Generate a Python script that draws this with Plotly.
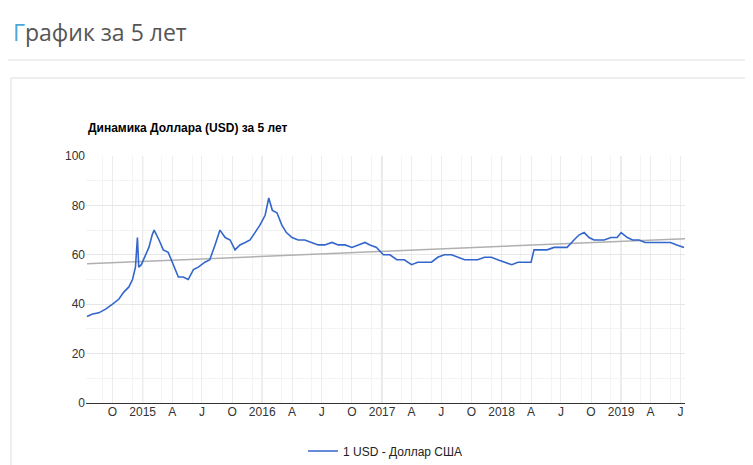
import numpy as np
import pandas as pd
import plotly.graph_objects as go

# USD rate (approx.)
dates = ["2014-07-15", "2014-08-01", "2014-08-20", "2014-09-10", "2014-10-01", "2014-10-20",
         "2014-11-05", "2014-11-20", "2014-12-01", "2014-12-10", "2014-12-16", "2014-12-20",
         "2014-12-28", "2015-01-10", "2015-01-20", "2015-01-30", "2015-02-05", "2015-02-20",
         "2015-03-05", "2015-03-20", "2015-04-05", "2015-04-20", "2015-05-05", "2015-05-20",
         "2015-06-05", "2015-06-20", "2015-07-10", "2015-07-25", "2015-08-10", "2015-08-25",
         "2015-09-10", "2015-09-25", "2015-10-10", "2015-10-25", "2015-11-10", "2015-11-25",
         "2015-12-10", "2015-12-25", "2016-01-10", "2016-01-21", "2016-02-01", "2016-02-15",
         "2016-03-01", "2016-03-15", "2016-04-01", "2016-04-20", "2016-05-10", "2016-06-01",
         "2016-06-20", "2016-07-10", "2016-08-01", "2016-08-20", "2016-09-10", "2016-10-01",
         "2016-10-20", "2016-11-10", "2016-11-25", "2016-12-15", "2017-01-05", "2017-01-25",
         "2017-02-15", "2017-03-10", "2017-04-01", "2017-04-20", "2017-05-10", "2017-06-01",
         "2017-06-20", "2017-07-10", "2017-08-01", "2017-08-20", "2017-09-10", "2017-10-01",
         "2017-10-20", "2017-11-10", "2017-12-01", "2017-12-20", "2018-01-10", "2018-02-01",
         "2018-02-20", "2018-03-15", "2018-04-01", "2018-04-10", "2018-05-01", "2018-05-20",
         "2018-06-10", "2018-07-01", "2018-07-20", "2018-08-10", "2018-08-25", "2018-09-10",
         "2018-09-25", "2018-10-10", "2018-10-25", "2018-11-10", "2018-12-01", "2018-12-20",
         "2019-01-01", "2019-01-20", "2019-02-05", "2019-02-25", "2019-03-15", "2019-04-01",
         "2019-04-20", "2019-05-10", "2019-06-01", "2019-06-20", "2019-07-12"]
usd = [35, 36, 36.5, 38, 40, 42,
       45, 47, 50, 55, 67, 55,
       56, 60, 63, 68, 70, 66,
       62, 61, 56, 51, 51, 50,
       54, 55, 57, 58, 64, 70,
       67, 66, 62, 64, 65, 66,
       69, 72, 76, 83, 78, 77,
       72, 69, 67, 66, 66, 65,
       64, 64, 65, 64, 64, 63,
       64, 65, 64, 63, 60, 60,
       58, 58, 56, 57, 57, 57,
       59, 60, 60, 59, 58, 58,
       58, 59, 59, 58, 57, 56,
       57, 57, 57, 62, 62, 62,
       63, 63, 63, 66, 68, 69,
       67, 66, 66, 66, 67, 67,
       69, 67, 66, 66, 65, 65,
       65, 65, 65, 64, 63]

tick_dates = ["2014-10-01", "2015-01-01", "2015-04-01", "2015-07-01", "2015-10-01", "2016-01-01",
              "2016-04-01", "2016-07-01", "2016-10-01", "2017-01-01", "2017-04-01", "2017-07-01",
              "2017-10-01", "2018-01-01", "2018-04-01", "2018-07-01", "2018-10-01", "2019-01-01",
              "2019-04-01", "2019-07-01"]
tick_text = ["O", "2015", "A", "J", "O", "2016", "A", "J", "O", "2017", "A", "J",
             "O", "2018", "A", "J", "O", "2019", "A", "J"]
years = ["2015-01-01", "2016-01-01", "2017-01-01", "2018-01-01", "2019-01-01"]

dt = pd.to_datetime(dates)
t = (dt - dt[0]).days.values
k, b = np.polyfit(t, usd, 1)
t_end = (pd.Timestamp("2019-07-15") - dt[0]).days
trend_x = [dt[0], pd.Timestamp("2019-07-15")]
trend_y = [b, b + k * t_end]

fig = go.Figure()
fig.add_trace(go.Scatter(x=trend_x, y=trend_y, mode="lines", line=dict(color="#b0b0b0", width=1.5),
                         showlegend=False, hoverinfo="skip"))
fig.add_trace(go.Scatter(x=dates, y=usd, mode="lines", name="1 USD - Доллар США",
                         line=dict(color="#3366cc", width=1.6)))

H = 247.0
W = 599.0
def py(px):
    return (395 - px) / H

def px_(x):
    return (x - 78) / W

shapes = [dict(type="line", xref="x", yref="y", x0=y, x1=y, y0=0, y1=100,
               line=dict(color="#cccccc", width=1), layer="below") for y in years]
shapes += [
    dict(type="line", xref="paper", yref="paper", x0=px_(0), x1=px_(753), y0=py(52), y1=py(52),
         line=dict(color="#e0e0e0", width=1)),
    dict(type="rect", xref="paper", yref="paper", x0=px_(3), x1=px_(748), y0=py(470), y1=py(70),
         line=dict(color="#dddddd", width=1)),
]

fig.update_layout(
    width=753, height=465,
    margin=dict(l=78, r=76, t=148, b=70, autoexpand=False),
    paper_bgcolor="white", plot_bgcolor="white",
    font=dict(family="Arial, Liberation Sans", size=12, color="#444"),
    shapes=shapes,
    showlegend=True,
    legend=dict(orientation="h", x=0.5, xanchor="center", y=py(443), yanchor="middle",
                font=dict(size=12, color="#222")),
    annotations=[
        dict(xref="paper", yref="paper", x=px_(3), y=py(24), xanchor="left", yanchor="middle",
             showarrow=False, font=dict(family="Open Sans", size=23, color="#555"),
             text="<span style='color:#4aa8d8'>Г</span>рафик за 5 лет"),
        dict(xref="paper", yref="paper", x=0, y=py(120), xanchor="left", yanchor="middle",
             showarrow=False, font=dict(size=12, color="#000"),
             text="<b>Динамика Доллара (USD) за 5 лет</b>"),
    ],
)
fig.update_xaxes(range=["2014-07-12", "2019-07-15"], tickvals=tick_dates, ticktext=tick_text,
                 showgrid=True, gridcolor="#ececec", ticks="", showline=False, zeroline=False,
                 tickfont=dict(color="#333"),
                 minor=dict(tickvals=pd.date_range("2014-08-15", "2019-06-15", freq="3MS")
                            .strftime("%Y-%m-%d").tolist(), showgrid=True, gridcolor="#f4f4f4"))
fig.update_yaxes(range=[0, 100], dtick=20, showgrid=True, gridcolor="#e6e6e6",
                 zeroline=True, zerolinecolor="#333", zerolinewidth=1, ticks="",
                 tickfont=dict(color="#333"),
                 minor=dict(dtick=10, showgrid=True, gridcolor="#f3f3f3"))

fig.write_html("out.html")
